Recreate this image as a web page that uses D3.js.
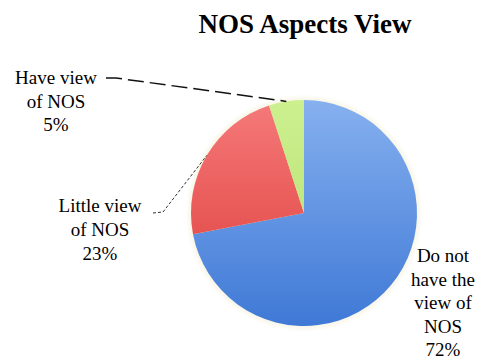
<!DOCTYPE html>
<html>
<head>
<meta charset="utf-8">
<script src="https://cdn.jsdelivr.net/npm/d3@7"></script>
</head>
<body style="margin:0">
<div id="chart"></div>
<script>
"use strict";
// slice data, clockwise from 12 o'clock
var categories = ["Do not have the view of NOS", "Little view of NOS", "Have view of NOS"];
var values = [72, 23, 5];
var labelLines = [
    ["Do not", "have the", "view of", "NOS", "72%"],
    ["Little view", "of NOS", "23%"],
    ["Have view", "of NOS", "5%"]
];
var titleText = "NOS Aspects View";

var cx = 304, cy = 213, radius = 113;

var svg = d3.select("#chart").append("svg").attr("width", 481).attr("height", 361);

// office-style vertical gradients
var fills = [["#86b0ef", "#3f79d6"], ["#f57a7a", "#dc3a36"], ["#cdf08f", "#b2dd6c"]];
var defs = svg.append("defs");
fills.forEach(function(f, i) {
    var lg = defs.append("linearGradient")
        .attr("id", "grad" + i)
        .attr("gradientUnits", "userSpaceOnUse")
        .attr("x1", 0).attr("y1", -radius)
        .attr("x2", 0).attr("y2", radius);
    lg.append("stop").attr("offset", "0%").attr("stop-color", f[0]);
    lg.append("stop").attr("offset", "100%").attr("stop-color", f[1]);
});
var halo = defs.append("radialGradient").attr("id", "halo");
halo.append("stop").attr("offset", "90%").attr("stop-color", "#f1edd2");
halo.append("stop").attr("offset", "100%").attr("stop-color", "#ffffff");

var pie = d3.pie().sort(null).value(function(d) { return d; });
var arcs = pie(values);
var arc = d3.arc().innerRadius(0).outerRadius(radius);
var outerPoint = d3.arc().innerRadius(radius).outerRadius(radius);

var g = svg.append("g").attr("transform", "translate(" + cx + "," + cy + ")");
g.append("circle").attr("r", radius + 6).attr("fill", "url(#halo)");
g.selectAll("path.slice")
    .data(arcs)
    .enter()
    .append("path")
    .attr("class", "slice")
    .attr("d", arc)
    .attr("fill", function(d, i) { return "url(#grad" + i + ")"; });

// leader lines to the slice mid points
function midOnArc(d) {
    var p = outerPoint.centroid(d);
    return [cx + p[0], cy + p[1]];
}
var line = d3.line();
svg.append("path")
    .attr("d", line([[153, 213], [163, 212], midOnArc(arcs[1])]))
    .attr("fill", "none")
    .attr("stroke", "#333")
    .attr("stroke-width", 1)
    .attr("stroke-dasharray", "3,2");
svg.append("path")
    .attr("d", line([[106, 78], [116, 78], midOnArc(arcs[2])]))
    .attr("fill", "none")
    .attr("stroke", "#111")
    .attr("stroke-width", 1.5)
    .attr("stroke-dasharray", "16,6");

// title and labels
svg.append("text").attr("x", 305).attr("y", 33)
    .attr("font-family", "Liberation Serif").attr("font-size", 27).attr("font-weight", "bold")
    .attr("text-anchor", "middle")
    .text(titleText);

var labelPos = [
    { x: 443, y: 262, dy: 23.5 },
    { x: 100, y: 212, dy: 24 },
    { x: 56, y: 84, dy: 23.5 }
];
labelLines.forEach(function(lines, i) {
    lines.forEach(function(s, j) {
        svg.append("text")
            .attr("x", labelPos[i].x)
            .attr("y", labelPos[i].y + j * labelPos[i].dy)
            .attr("font-family", "Liberation Serif").attr("font-size", 19)
            .attr("text-anchor", "middle")
            .text(s);
    });
});
</script>
</body>
</html>
